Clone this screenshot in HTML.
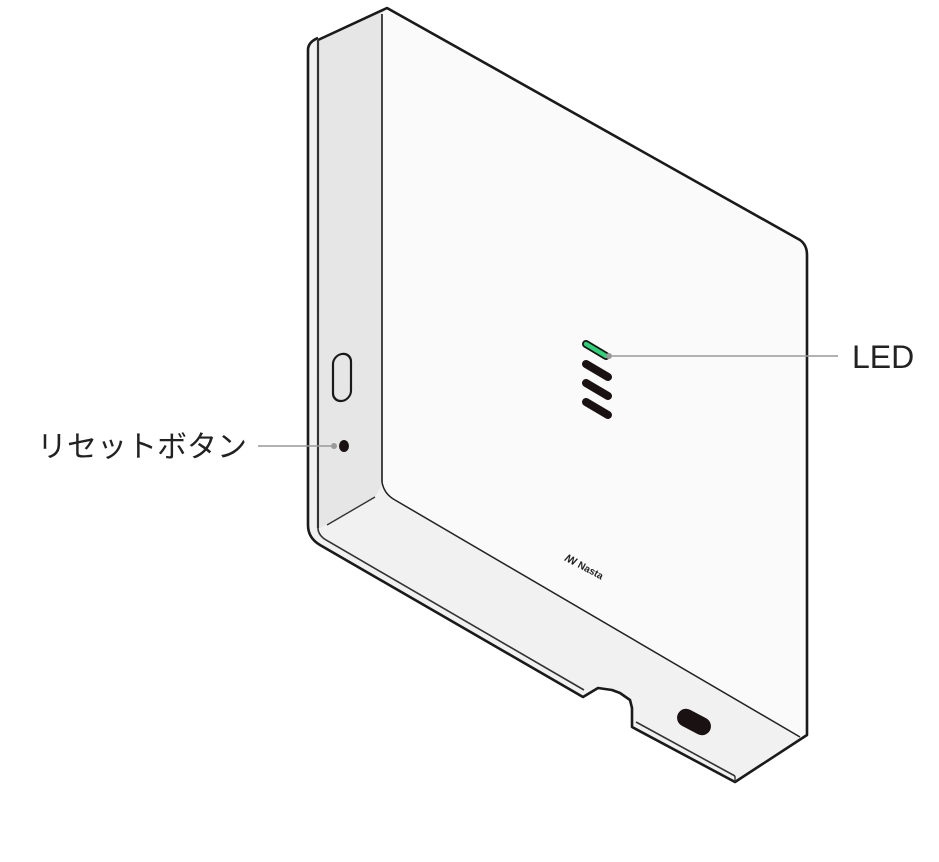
<!DOCTYPE html>
<html><head><meta charset="utf-8"><style>
html,body{margin:0;padding:0;background:#fff;width:939px;height:862px;overflow:hidden}
svg{display:block}
</style></head><body>
<svg width="939" height="862" viewBox="0 0 939 862" xmlns="http://www.w3.org/2000/svg">
<!-- front face -->
<path d="M382,12 L387,8 L800,240 Q807,245 807,255 L807,735 L735,782 L632,727 L630,700 L612,690 L598,688 L583,697 L320,545 Q308,538 308,525 L308,50 Q308,42 318,38 Z" fill="#f1f1f1"/>
<path d="M382,12 L387,8 L800,240 Q807,245 807,255 L807,735 L800,737 L395,500 Q382,492 382,480 Z" fill="#fafafa"/>
<!-- side panel -->
<path d="M318,40 L387,8 L382,14 L382,485 L375,497 L320,528 Z" fill="#e6e6e6"/>
<!-- outline -->
<path d="M318,40 L387,8 L800,240 Q807,245 807,255 L807,735 L735,782 L632,727 L632,708 L630,700 L620,693 L612,690 L598,688 L583,697 L320,545 Q308,538 308,525 L308,50 Q308,42 318,38" fill="none" stroke="#1a1a1a" stroke-width="2.6" stroke-linejoin="round"/>
<!-- inner lines -->
<line x1="318" y1="40" x2="318" y2="528" stroke="#333" stroke-width="2.2"/>
<path d="M318,528 Q318,535 326,540 L584,690" fill="none" stroke="#333" stroke-width="1.6"/>
<path d="M636,722 L735,776" fill="none" stroke="#333" stroke-width="1.6"/>
<line x1="382" y1="14" x2="382" y2="482" stroke="#333" stroke-width="1.8"/>
<path d="M382,482 Q384,494 395,500 L800,737" fill="none" stroke="#222" stroke-width="1.5"/>
<line x1="327" y1="525" x2="375" y2="497" stroke="#333" stroke-width="1.4"/>
<line x1="735" y1="782" x2="735" y2="776" stroke="#333" stroke-width="1.4"/>
<!-- side button -->
<rect x="333" y="354" width="18" height="47" rx="9" fill="none" stroke="#1a1a1a" stroke-width="2.2" transform="skewY(-8) translate(0,48)"/>
<!-- reset hole -->
<ellipse cx="344" cy="446" rx="5" ry="6" fill="#1a1212"/>
<line x1="258" y1="446" x2="334" y2="446" stroke="#999" stroke-width="1.5"/>
<circle cx="334" cy="446" r="3" fill="#999"/>
<!-- LED -->
<line x1="586" y1="344" x2="606" y2="356" stroke="#1a1212" stroke-width="8" stroke-linecap="round"/>
<line x1="586" y1="344" x2="606" y2="356" stroke="#2fd17a" stroke-width="4.5" stroke-linecap="round"/>
<line x1="586" y1="364" x2="608" y2="377" stroke="#1a1212" stroke-width="8" stroke-linecap="round"/>
<line x1="586" y1="383" x2="608" y2="396" stroke="#1a1212" stroke-width="8" stroke-linecap="round"/>
<line x1="586" y1="402" x2="608" y2="415" stroke="#1a1212" stroke-width="8" stroke-linecap="round"/>
<line x1="609" y1="356" x2="838" y2="356" stroke="#999" stroke-width="1.5"/>
<circle cx="609" cy="356" r="3" fill="#999"/>
<!-- bottom hole -->
<rect x="676" y="713" width="36" height="18" rx="9" fill="#1a1212" transform="rotate(28 694 722)"/>
<!-- logo -->
<text x="564" y="560" font-family="Liberation Sans, sans-serif" font-size="10" font-weight="bold" fill="#222" transform="rotate(28 564 560)">ꟿ Nasta</text>
<!-- labels -->
<text x="852" y="368" font-family="Liberation Sans, sans-serif" font-size="32" fill="#222">LED</text>
<text x="37" y="457" font-family="Liberation Sans, 'Noto Sans CJK JP', sans-serif" font-size="30" fill="#222">リセットボタン</text>
</svg>
</body></html>
